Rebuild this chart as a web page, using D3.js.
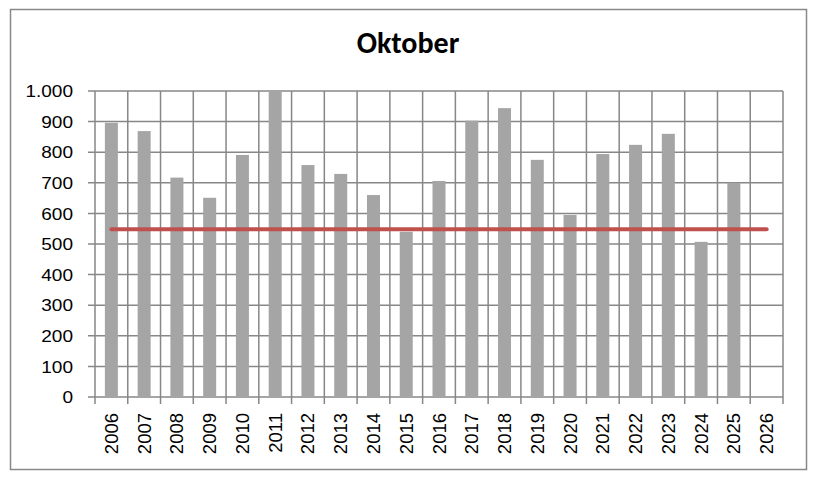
<!DOCTYPE html>
<html><head><meta charset="utf-8">
<script src="https://cdn.jsdelivr.net/npm/d3@7"></script>
<style>body{margin:0;background:#fff}svg{display:block}</style>
</head><body><svg id="c" width="817" height="478"></svg>
<script>
const years = ["2006","2007","2008","2009","2010","2011","2012","2013","2014","2015","2016","2017","2018","2019","2020","2021","2022","2023","2024","2025","2026"];
const values = [896,869,717,651,791,1000,758,729,660,540,706,903,944,775,595,794,824,860,507,700,null];
const refLine = [548,548,548,548,548,548,548,548,548,548,548,548,548,548,548,548,548,548,548,548,548];
const yTicks = [0,100,200,300,400,500,600,700,800,900,1000];
const title = "Oktober";

const svg = d3.select("#c");
const titleFont = "Calibri, Carlito, 'Open Sans', sans-serif";
const font = "'Liberation Sans', Arial, sans-serif";
const grid = "#878787";
const L = 95, R = 783, T = 91, B = 397;

svg.append("rect").attr("x",10.5).attr("y",9.5).attr("width",796).attr("height",460)
  .attr("fill","#fff").attr("stroke","#888").attr("stroke-width",1.5);

svg.append("text").attr("x",408).attr("y",53).attr("text-anchor","middle")
  .attr("font-family",titleFont).attr("font-weight","bold").attr("font-size",30).text(title);

const x = d3.scaleBand().domain(years).range([L,R]).paddingInner(0).paddingOuter(0);
const y = d3.scaleLinear().domain([0,1000]).range([B,T]);

// horizontal gridlines
svg.append("g").selectAll("line").data(yTicks).join("line")
  .attr("x1",L-7).attr("x2",R).attr("y1",d=>y(d)).attr("y2",d=>y(d))
  .attr("stroke",grid).attr("stroke-width",1.5);
// vertical gridlines at category boundaries
const bounds = years.map(d=>x(d)).concat([R]);
svg.append("g").selectAll("line").data(bounds).join("line")
  .attr("x1",d=>d).attr("x2",d=>d).attr("y1",T).attr("y2",B+7)
  .attr("stroke",grid).attr("stroke-width",1.5);

// bars
const bw = 13;
svg.append("g").selectAll("rect").data(years.map((yr,i)=>({yr,v:values[i]})).filter(d=>d.v!=null))
  .join("rect")
  .attr("x",d=>x(d.yr)+x.bandwidth()/2-bw/2).attr("width",bw)
  .attr("y",d=>y(d.v)).attr("height",d=>B-y(d.v)).attr("fill","#A5A5A5");

// reference line
const line = d3.line().x((d,i)=>x(years[i])+x.bandwidth()/2).y(d=>y(d));
svg.append("path").datum(refLine).attr("d",line).attr("fill","none")
  .attr("stroke","#C0504D").attr("stroke-width",4).attr("stroke-linecap","round");

// y labels
const fmt = d=> d>=1000 ? d3.format(",")(d).replace(/,/g,".") : String(d);
svg.append("g").selectAll("text").data(yTicks).join("text")
  .attr("transform",d=>`translate(73,${y(d)}) scale(1.12,1)`).attr("dy","0.36em").attr("text-anchor","end")
  .attr("font-family",font).attr("font-size",17).attr("fill","#000").text(fmt);

// x labels
svg.append("g").selectAll("text").data(years).join("text")
  .attr("transform",d=>`translate(${x(d)+x.bandwidth()/2+6.5},413) rotate(-90)`)
  .attr("text-anchor","end").attr("font-family",font).attr("font-size",18.5).attr("fill","#000").text(d=>d);
</script></body></html>
